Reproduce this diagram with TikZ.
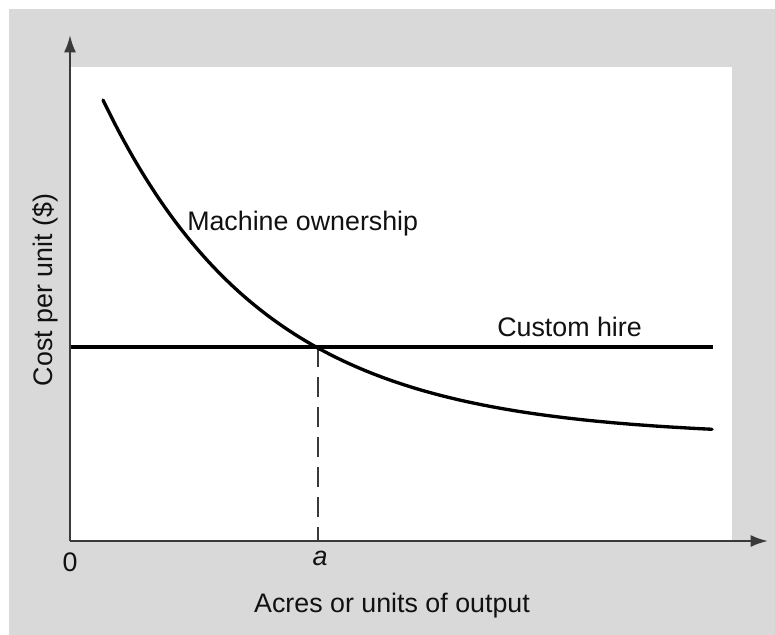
\documentclass[tikz,border=0pt]{standalone}
\usepackage{fontspec}
\setmainfont{Liberation Sans}
\usetikzlibrary{arrows.meta}
\definecolor{bggray}{HTML}{D9D9D9}
\definecolor{axisgray}{HTML}{3A3A3A}
\definecolor{inkc}{HTML}{111111}
\begin{document}
\begin{tikzpicture}[x=0.75pt,y=-0.75pt,
  axis/.style={draw=axisgray,line width=1.7pt,-{Latex[length=13pt,width=9pt]}},
  curveline/.style={draw=black,line width=2.5pt},
  dashline/.style={draw=axisgray,line width=1.6pt,dash pattern=on 15pt off 7.5pt},
  lbl/.style={inner sep=0pt,text=inkc,font=\fontsize{20.1pt}{24pt}\selectfont}]
\useasboundingbox (0,0) rectangle (775,635);
\fill[white] (0,0) rectangle (775,635);
\fill[bggray] (9,9) rectangle (775,635);
\fill[white] (70,67) rectangle (732,541);
% coordinates
\coordinate (O) at (70,541);
\coordinate (ytop) at (70,35);
\coordinate (xend) at (768,541);
\coordinate (hl) at (70,347);
\coordinate (hr) at (713,347);
\coordinate (P) at (318,347);
\coordinate (Pb) at (318,541);
% lines
\draw[curveline] (hl) -- (hr);
\draw[dashline] (P) -- (Pb);
\draw[curveline,line cap=round] plot[domain=103:712,samples=120,smooth] (\x,{437-337*exp(-0.0062*(\x-103))});
\draw[axis] (O) -- (ytop);
\draw[axis] (O) -- (xend);
% labels
\node[lbl,anchor=base west] (mo) at (187,230) {Machine ownership};
\node[lbl,anchor=base west] (ch) at (497,336) {Custom hire};
\node[lbl,anchor=base] (zero) at (70,571) {0};
\node[lbl,anchor=base] (alab) at (320,565) {\itshape a};
\node[lbl,anchor=base] (xl) at (392,612) {Acres or units of output};
\node[lbl,rotate=90] (yl) at (45,290) {Cost per unit (\$)};
\end{tikzpicture}
\end{document}
